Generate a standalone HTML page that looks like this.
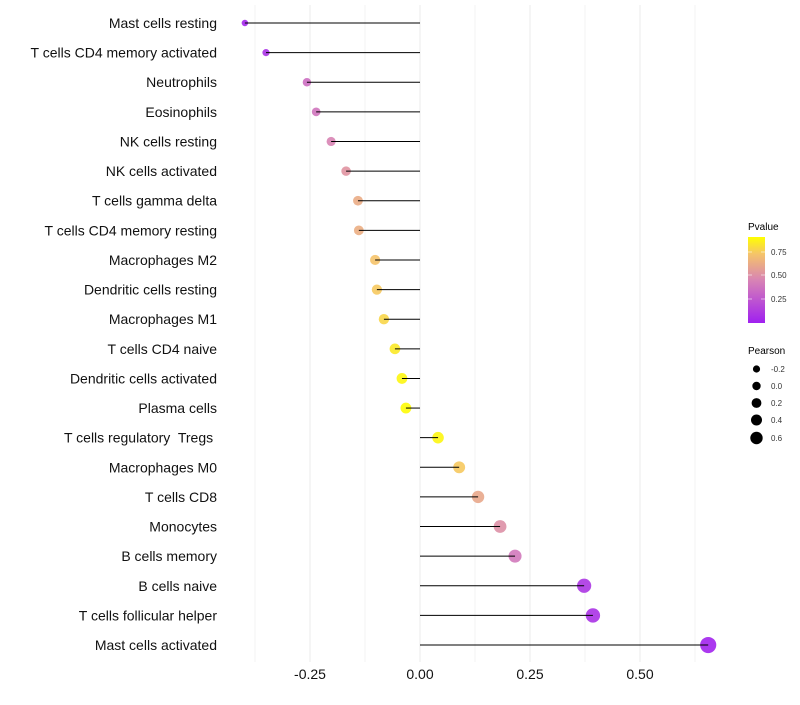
<!DOCTYPE html>
<html><head><meta charset="utf-8"><style>
body{margin:0;background:#fff;font-family:"Liberation Sans",sans-serif}
text{white-space:pre}
</style></head><body>
<svg id="chart" width="800" height="700" xmlns="http://www.w3.org/2000/svg">
<defs><linearGradient id="pg" x1="0" y1="1" x2="0" y2="0">
<stop offset="0" stop-color="#a020f0"/><stop offset="0.5" stop-color="#d884b4"/><stop offset="0.8" stop-color="#f5c36a"/><stop offset="1" stop-color="#ffff00"/></linearGradient></defs>
<g id="grid"></g>
<g id="marks"></g>
<g id="ylabels"></g>
<g id="xlabels"></g>
<g font-size="10">
<text x="748" y="230" fill="#000">Pvalue</text>
<rect x="748" y="237" width="17" height="86" fill="url(#pg)"/>
<g stroke="#fff" stroke-width="0.8" opacity="0.7"><line x1="748" x2="752" y1="252" y2="252"/><line x1="761" x2="765" y1="252" y2="252"/><line x1="748" x2="752" y1="275" y2="275"/><line x1="761" x2="765" y1="275" y2="275"/><line x1="748" x2="752" y1="299" y2="299"/><line x1="761" x2="765" y1="299" y2="299"/></g>
<g font-size="8" fill="#333"><text x="771" y="255">0.75</text><text x="771" y="278">0.50</text><text x="771" y="302">0.25</text></g>
</g>
<g font-size="10">
<text x="748" y="354" fill="#000">Pearson</text>
<g font-size="8" fill="#333">
<circle cx="756.5" cy="369" r="3.6" fill="#000"/><text x="771" y="372">-0.2</text>
<circle cx="756.5" cy="386" r="4.2" fill="#000"/><text x="771" y="389">0.0</text>
<circle cx="756.5" cy="403" r="4.9" fill="#000"/><text x="771" y="406">0.2</text>
<circle cx="756.5" cy="420" r="5.5" fill="#000"/><text x="771" y="423">0.4</text>
<circle cx="756.5" cy="438" r="6.2" fill="#000"/><text x="771" y="441">0.6</text>
</g></g>
</svg>
<script>
const categories=["Mast cells resting","T cells CD4 memory activated","Neutrophils","Eosinophils","NK cells resting","NK cells activated","T cells gamma delta","T cells CD4 memory resting","Macrophages M2","Dendritic cells resting","Macrophages M1","T cells CD4 naive","Dendritic cells activated","Plasma cells","T cells regulatory  Tregs ","Macrophages M0","T cells CD8","Monocytes","B cells memory","B cells naive","T cells follicular helper","Mast cells activated"];
const pearson=[-0.398,-0.35,-0.257,-0.236,-0.202,-0.168,-0.141,-0.139,-0.102,-0.098,-0.082,-0.057,-0.041,-0.032,0.041,0.089,0.132,0.182,0.216,0.373,0.393,0.655];
const pvalue=[0.03,0.08,0.35,0.38,0.45,0.52,0.62,0.63,0.72,0.74,0.78,0.84,0.88,0.9,0.88,0.74,0.6,0.5,0.4,0.1,0.08,0.02];
const xTicks=[-0.25,0,0.25,0.5];
const xTickLabels=["-0.25","0.00","0.25","0.50"];
const NS="http://www.w3.org/2000/svg";
const x=v=>420+v*440, y=i=>23+i*29.62;
function mk(t,a,p){const e=document.createElementNS(NS,t);for(const k in a)e.setAttribute(k,a[k]);p.appendChild(e);return e;}
function lerp(a,b,t){return a.map((v,i)=>Math.round(v+(b[i]-v)*t));}
function col(p){const s=[[0,[160,32,240]],[0.45,[216,132,180]],[0.72,[245,195,106]],[0.91,[255,255,0]]];
if(p<=0)return `rgb(${s[0][1]})`;for(let i=1;i<s.length;i++){if(p<=s[i][0]){const t=(p-s[i-1][0])/(s[i][0]-s[i-1][0]);return `rgb(${lerp(s[i-1][1],s[i][1],t)})`;}}return 'rgb(255,255,0)';}
function rad(v){const a=Math.max(0.5,13+(v+0.35)*52);return Math.max(1.6,Math.sqrt(a));}
const grid=document.getElementById('grid');
for(let v=-0.375;v<=0.63;v+=0.125){const l=mk('line',{x1:x(v),x2:x(v),y1:5,y2:662,stroke:'#ebebeb','stroke-width':Math.abs(v*8)%2<0.01?1:0.6},grid);

}
const marks=document.getElementById('marks'),yl=document.getElementById('ylabels'),xl=document.getElementById('xlabels');
categories.forEach((c,i)=>{
const pt=mk('circle',{cx:x(pearson[i]),cy:y(i),r:rad(pearson[i]),fill:col(pvalue[i]),opacity:0.9},marks);


const sg=mk('line',{x1:x(0),x2:x(pearson[i]),y1:y(i),y2:y(i),stroke:'#000','stroke-width':1},marks);


const t=mk('text',{x:217,y:y(i)+5,'text-anchor':'end','font-size':14,fill:'#111'},yl);t.textContent=c;


});
xTicks.forEach((v,i)=>{const t=mk('text',{x:x(v),y:679,'text-anchor':'middle','font-size':14,fill:'#111'},xl);t.textContent=xTickLabels[i];

});
</script>
</body></html>
